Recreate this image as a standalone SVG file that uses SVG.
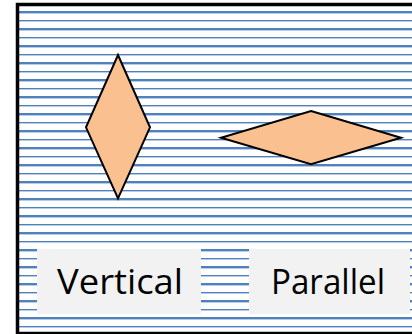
<svg xmlns="http://www.w3.org/2000/svg" width="412" height="334" viewBox="0 0 412 334">
<defs>
<style>
.thick{stroke:#4F81BD;stroke-width:2;fill:none}
.thin{stroke:#4F81BD;stroke-width:1;fill:none}
.shade{stroke:#B9CCE6;stroke-width:1;fill:none}
.shape{fill:#FAC090;stroke:#000;stroke-width:2;stroke-linejoin:miter}
.box{fill:#F2F2F2}
.lbl{font-family:"Open Sans","Noto Sans",sans-serif;font-size:34px;fill:#000}
</style>
</defs>
<rect width="412" height="334" fill="#fff"/>
<g id="stripes">
<path class="thick" d="M19 12H412M19 29H412M19 46H412M19 63H412M19 80H412M19 97H412M19 114H412M19 131H412M19 148H412M19 165H412M19 182H412M19 199H412M19 216H412M19 233H412M19 250H412M19 267H412M19 284H412M19 301H412M19 318H412"/>
<path class="shade" d="M19 13.5H412M19 30.5H412M19 47.5H412M19 64.5H412M19 81.5H412M19 98.5H412M19 115.5H412M19 132.5H412M19 149.5H412M19 166.5H412M19 183.5H412M19 200.5H412M19 217.5H412M19 234.5H412M19 251.5H412M19 268.5H412M19 285.5H412M19 302.5H412M19 319.5H412"/>
<path class="thin" d="M19 20.5H412M19 37.5H412M19 54.5H412M19 71.5H412M19 88.5H412M19 105.5H412M19 122.5H412M19 139.5H412M19 156.5H412M19 173.5H412M19 190.5H412M19 207.5H412M19 224.5H412M19 241.5H412M19 258.5H412M19 275.5H412M19 292.5H412M19 309.5H412M19 326.5H412"/>
<path class="shade" d="M19 21.5H412M19 38.5H412M19 55.5H412M19 72.5H412M19 89.5H412M19 106.5H412M19 123.5H412M19 140.5H412M19 157.5H412M19 174.5H412M19 191.5H412M19 208.5H412M19 225.5H412M19 242.5H412M19 259.5H412M19 276.5H412M19 293.5H412M19 310.5H412M19 327.5H412"/>
</g>
<rect x="17.5" y="4.5" width="420" height="329" fill="none" stroke="#000" stroke-width="3.5"/>
<g id="vertical-diamond">
<polygon class="shape" points="118,55 150,127.3 118,198.3 86,127.3"/>
</g>
<g id="parallel-diamond">
<polygon class="shape" points="311,111 401,137.7 311,164.3 221,137.7"/>
</g>
<g id="label-vertical">
<rect class="box" x="37" y="249" width="164" height="65"/>
<text class="lbl" x="57" y="294" textLength="126" lengthAdjust="spacingAndGlyphs">Vertical</text>
</g>
<g id="label-parallel">
<rect class="box" x="249" y="249" width="161" height="65"/>
<text class="lbl" x="271" y="294" textLength="114" lengthAdjust="spacingAndGlyphs">Parallel</text>
</g>
<g id="connectors"/>
</svg>
